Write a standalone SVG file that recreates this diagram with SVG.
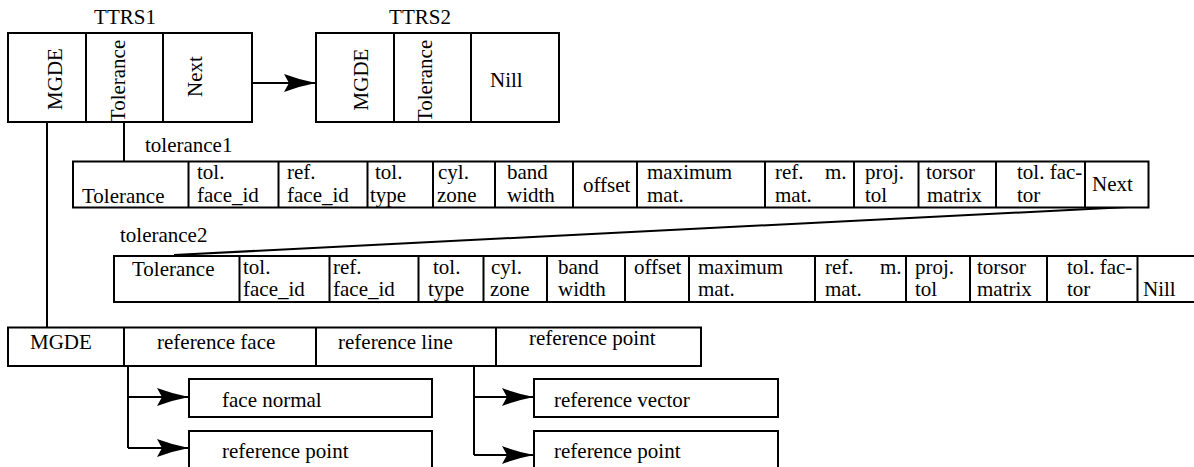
<svg xmlns="http://www.w3.org/2000/svg" width="1194" height="467" viewBox="0 0 1194 467">
<style>
text{font-family:"Liberation Serif","Times New Roman",serif;font-size:21px;fill:#000}
.b{fill:#fff;stroke:#000;stroke-width:2}
.d{stroke:#000;stroke-width:2;fill:none}
.c{stroke:#000;stroke-width:2;fill:none}
.m{text-anchor:middle}
</style>
<defs>
<marker id="ah" viewBox="0 0 32 18" refX="32" refY="9" markerWidth="32" markerHeight="18" markerUnits="userSpaceOnUse" orient="auto">
<path d="M0,0 Q16,6 32,9 Q16,12 0,18 L5,9 Z" fill="#000"/>
</marker>
</defs>
<rect width="1194" height="467" fill="#fff"/>

<g id="connectors">
<line class="c" x1="252" y1="83" x2="316" y2="83" marker-end="url(#ah)"/>
<line class="c" x1="47" y1="122" x2="47" y2="327.5"/>
<line class="c" x1="124" y1="122" x2="124" y2="161.5"/>
<line class="c" x1="1128" y1="207" x2="174" y2="255"/>
<path class="c" d="M128,366 V448"/>
<line class="c" x1="128" y1="397" x2="189" y2="397" marker-end="url(#ah)"/>
<line class="c" x1="128" y1="448" x2="189" y2="448" marker-end="url(#ah)"/>
<path class="c" d="M474,366 V455"/>
<line class="c" x1="474" y1="397" x2="534" y2="397" marker-end="url(#ah)"/>
<line class="c" x1="474" y1="455" x2="534" y2="455" marker-end="url(#ah)"/>
</g>

<g id="ttrs1">
<text x="125" y="24" class="m">TTRS1</text>
<rect class="b" x="8" y="33" width="244" height="89"/>
<path class="d" d="M86,33 V122 M163,33 V122"/>
<text class="m" transform="translate(62,79) rotate(-90)">MGDE</text>
<text class="m" transform="translate(125,81) rotate(-90)">Tolerance</text>
<text class="m" transform="translate(202,76.5) rotate(-90)">Next</text>
</g>

<g id="ttrs2">
<text x="420" y="24" class="m">TTRS2</text>
<rect class="b" x="316" y="33" width="243" height="89"/>
<path class="d" d="M394,33 V122 M471,33 V122"/>
<text class="m" transform="translate(368,79.5) rotate(-90)">MGDE</text>
<text class="m" transform="translate(432,81) rotate(-90)">Tolerance</text>
<text x="490" y="87">Nill</text>
</g>

<g id="tolerance1">
<text x="145" y="152">tolerance1</text>
<rect class="b" x="73" y="161.5" width="1075.5" height="46"/>
<path class="d" d="M188.5,161.5 V207.5 M278.5,161.5 V207.5 M367.5,161.5 V207.5 M433,161.5 V207.5 M495,161.5 V207.5 M573,161.5 V207.5 M637,161.5 V207.5 M765,161.5 V207.5 M854,161.5 V207.5 M918.5,161.5 V207.5 M996,161.5 V207.5 M1085,161.5 V207.5"/>
<text x="82" y="202.5">Tolerance</text>
<text x="197" y="179">tol.</text><text x="197" y="201.5">face_id</text>
<text x="287" y="179">ref.</text><text x="287" y="201.5">face_id</text>
<text x="375" y="179">tol.</text><text x="370" y="201.5">type</text>
<text x="438" y="179">cyl.</text><text x="437" y="201.5">zone</text>
<text x="507" y="179">band</text><text x="507" y="201.5">width</text>
<text x="583" y="192">offset</text>
<text x="647" y="179">maximum</text><text x="647" y="201.5">mat.</text>
<text x="775" y="179">ref.</text><text x="825" y="179">m.</text><text x="775" y="201.5">mat.</text>
<text x="865" y="179">proj.</text><text x="865" y="201.5">tol</text>
<text x="926" y="179">torsor</text><text x="927" y="201.5">matrix</text>
<text x="1017" y="179">tol. fac-</text><text x="1017" y="201.5">tor</text>
<text x="1092" y="191">Next</text>
</g>

<g id="tolerance2">
<text x="120" y="242">tolerance2</text>
<rect class="b" x="114" y="256" width="1090" height="46"/>
<path class="d" d="M239.5,256 V302 M329.5,256 V302 M418.5,256 V302 M483.5,256 V302 M547,256 V302 M625,256 V302 M689,256 V302 M815,256 V302 M906,256 V302 M970,256 V302 M1047,256 V302 M1137.5,256 V302"/>
<text x="132" y="276">Tolerance</text>
<text x="243" y="273.5">tol.</text><text x="243" y="296">face_id</text>
<text x="333" y="273.5">ref.</text><text x="333" y="296">face_id</text>
<text x="433" y="273.5">tol.</text><text x="428" y="296">type</text>
<text x="491" y="273.5">cyl.</text><text x="490" y="296">zone</text>
<text x="558" y="273.5">band</text><text x="558" y="296">width</text>
<text x="634" y="273.5">offset</text>
<text x="698" y="273.5">maximum</text><text x="698" y="296">mat.</text>
<text x="825" y="273.5">ref.</text><text x="880" y="273.5">m.</text><text x="825" y="296">mat.</text>
<text x="915" y="273.5">proj.</text><text x="915" y="296">tol</text>
<text x="977" y="273.5">torsor</text><text x="977" y="296">matrix</text>
<text x="1067" y="273.5">tol. fac-</text><text x="1067" y="296">tor</text>
<text x="1143" y="296">Nill</text>
</g>

<g id="mgde">
<rect class="b" x="8" y="327.5" width="693" height="38.5"/>
<path class="d" d="M124,327.5 V366 M316,327.5 V366 M496,327.5 V366"/>
<text x="30" y="349">MGDE</text>
<text x="157" y="349">reference face</text>
<text x="338" y="349">reference line</text>
<text x="529" y="344.5">reference point</text>
</g>

<g id="face-normal">
<rect class="b" x="189" y="379" width="243" height="38"/>
<text x="222" y="407">face normal</text>
</g>
<g id="face-reference-point">
<rect class="b" x="189" y="431" width="243" height="42"/>
<text x="222" y="458">reference point</text>
</g>
<g id="reference-vector">
<rect class="b" x="534" y="379" width="244" height="38"/>
<text x="554" y="407">reference vector</text>
</g>
<g id="line-reference-point">
<rect class="b" x="534" y="431" width="244" height="42"/>
<text x="554" y="458">reference point</text>
</g>
</svg>
